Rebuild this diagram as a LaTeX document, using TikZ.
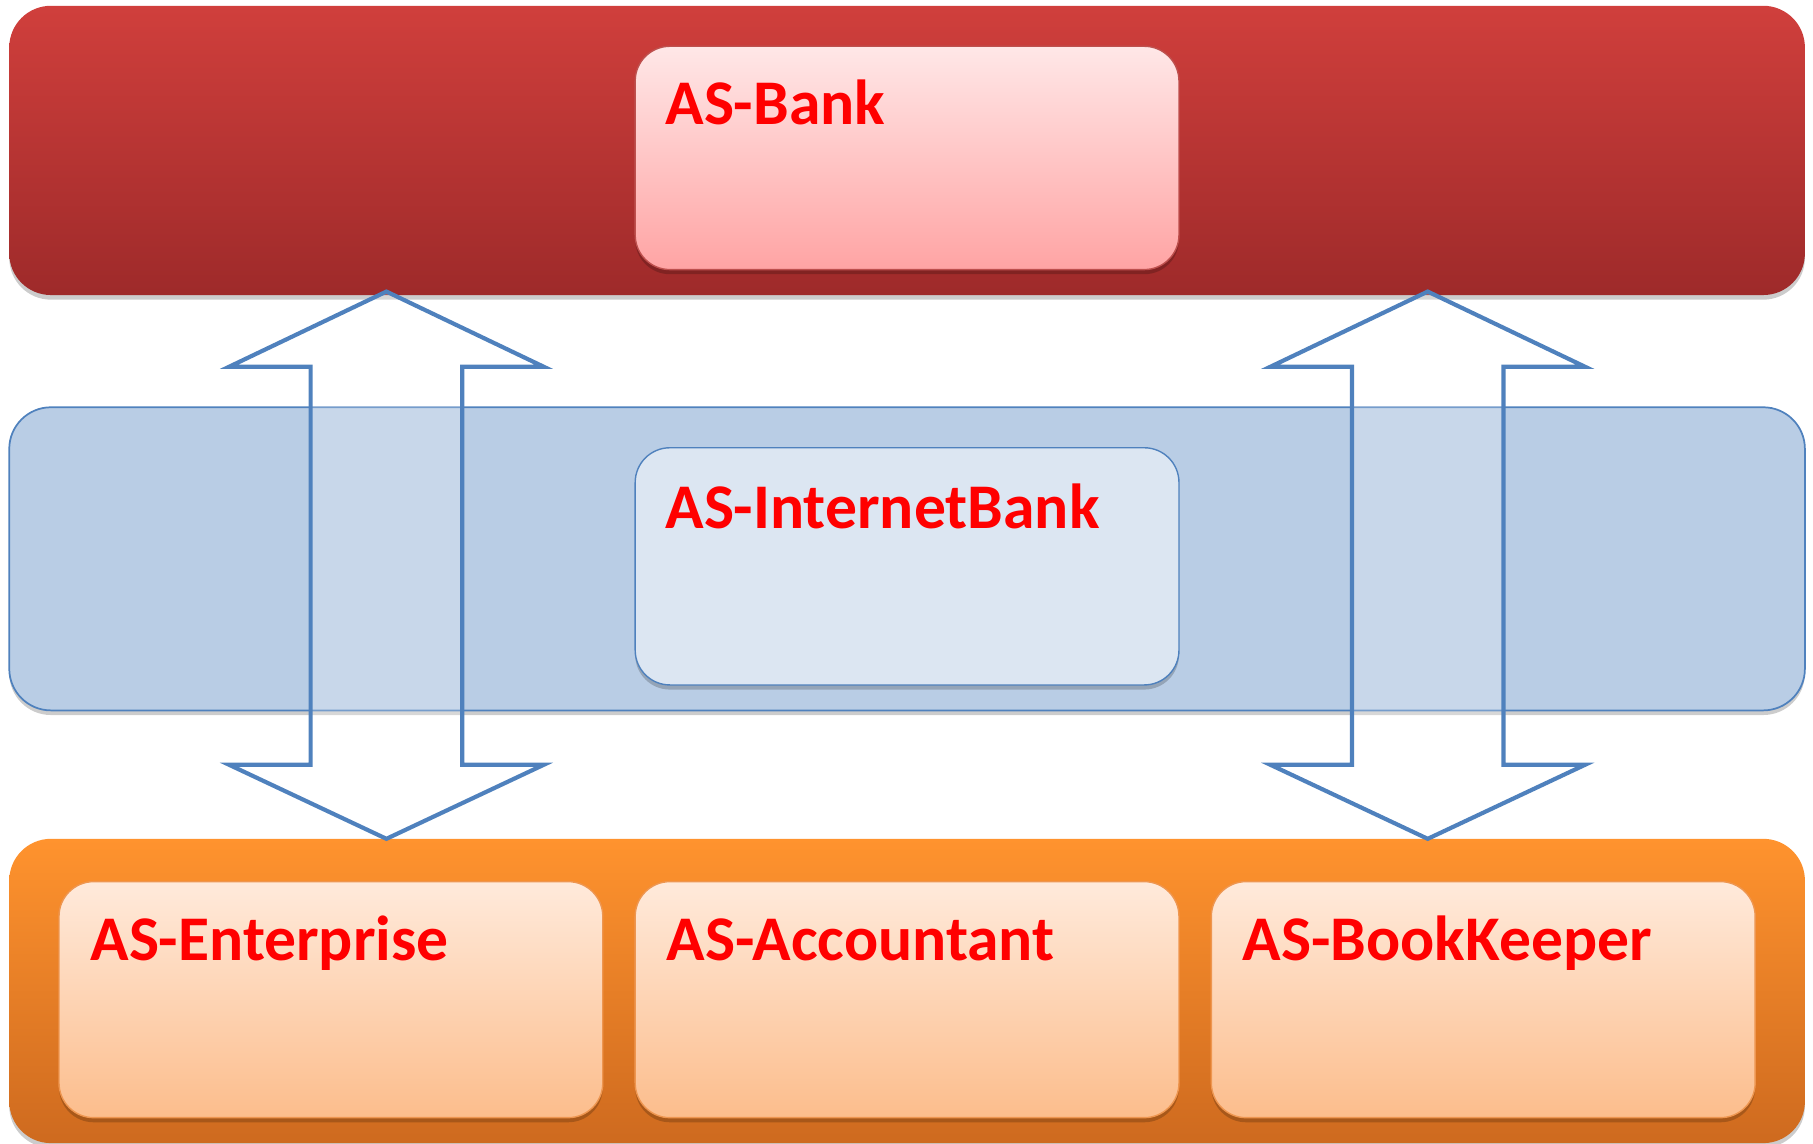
\documentclass[tikz,border=0pt]{standalone}
\usepackage{fontspec}
\setmainfont{Carlito}
\usetikzlibrary{shadows}
\definecolor{redtop}{RGB}{208,63,60}
\definecolor{redbot}{RGB}{158,42,42}
\definecolor{pinktop}{RGB}{255,231,231}
\definecolor{pinkbot}{RGB}{255,164,164}
\definecolor{pinkline}{RGB}{190,80,78}
\definecolor{bandblue}{RGB}{185,205,229}
\definecolor{lineblue}{RGB}{79,129,189}
\definecolor{boxblue}{RGB}{220,230,242}
\definecolor{orangetop}{RGB}{255,147,46}
\definecolor{orangebot}{RGB}{206,106,31}
\definecolor{peachtop}{RGB}{255,234,219}
\definecolor{peachbot}{RGB}{252,189,140}
\definecolor{peachline}{RGB}{238,150,80}
\definecolor{labelred}{RGB}{255,0,0}
\tikzset{
  softshadow/.style={drop shadow={shadow xshift=0pt, shadow yshift=-4pt, opacity=0.2, fill=black}},
  band/.style={rounded corners=36pt, minimum width=1552pt, inner sep=0pt, softshadow},
  innerbox/.style={rounded corners=30pt, minimum width=470pt, inner sep=0pt, softshadow, line width=1.2pt},
  lbl/.style={anchor=base west, inner sep=0pt, text=labelred, font=\fontsize{55}{60}\selectfont\bfseries},
  dblarrow/.style={draw=lineblue, line width=3.6pt, fill=white, fill opacity=0.22, line join=miter}
}
\begin{document}
\begin{tikzpicture}[x=1pt,y=-1pt]
\useasboundingbox (0,0) rectangle (1567,988);
% red band
\node[band, minimum height=250pt, top color=redtop, bottom color=redbot] (redband) at (784,130) {};
\node[innerbox, minimum height=193pt, draw=pinkline, top color=pinktop, bottom color=pinkbot] (bank) at (784,136.5) {};
\node[lbl] (tbank) at (575,108) {AS-Bank};
% blue band
\node[band, minimum height=262pt, fill=bandblue, draw=lineblue, line width=1.5pt] (blueband) at (784,483) {};
\node[innerbox, minimum height=205pt, fill=boxblue, draw=lineblue] (ib) at (784,489.5) {};
\node[lbl] (tib) at (575,457) {AS-InternetBank};
% orange band
\node[band, minimum height=263pt, top color=orangetop, bottom color=orangebot] (orangeband) at (784,856.5) {};
\node[innerbox, minimum height=204pt, draw=peachline, top color=peachtop, bottom color=peachbot] (ent) at (286,864) {};
\node[innerbox, minimum height=204pt, draw=peachline, top color=peachtop, bottom color=peachbot] (acc) at (784,864) {};
\node[innerbox, minimum height=204pt, draw=peachline, top color=peachtop, bottom color=peachbot] (bk) at (1282,864) {};
\node[lbl] (tent) at (78,830) {AS-Enterprise};
\node[lbl] (tacc) at (576,830) {AS-Accountant};
\node[lbl] (tbk) at (1074,830) {AS-BookKeeper};
% double arrows
\foreach \cx/\nm in {334/left,1234/right}{
  \coordinate (\nm top) at (\cx,252);
  \coordinate (\nm bot) at (\cx,725);
  \draw[dblarrow] (\nm top) -- (\cx+136,317) -- (\cx+65.5,317) -- (\cx+65.5,661) -- (\cx+136,661)
    -- (\nm bot) -- (\cx-136,661) -- (\cx-65.5,661) -- (\cx-65.5,317) -- (\cx-136,317) -- cycle;
}
\end{tikzpicture}
\end{document}
